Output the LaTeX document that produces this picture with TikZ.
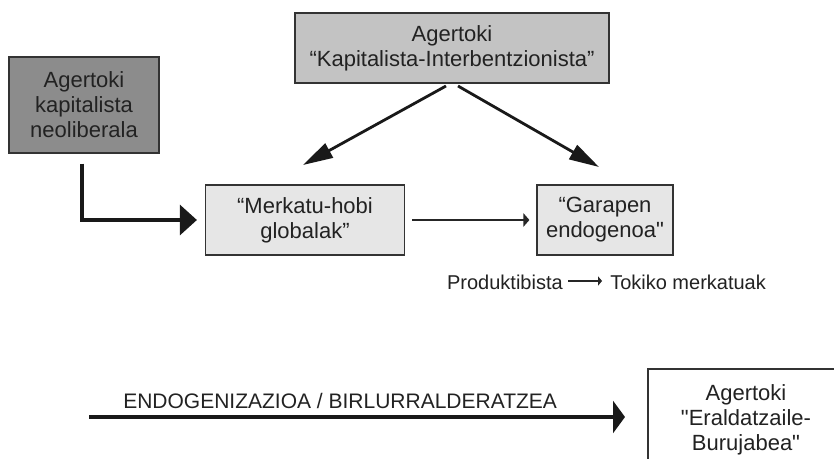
\documentclass[tikz,border=0pt]{standalone}
\usepackage{fontspec}
\setmainfont{Liberation Sans}[Ligatures=TeXOff]
\usetikzlibrary{arrows.meta,calc}
\definecolor{txt}{HTML}{222222}
\definecolor{darkfill}{HTML}{8C8C8C}
\definecolor{midfill}{HTML}{C3C3C3}
\definecolor{lightfill}{HTML}{E6E6E6}
\definecolor{edge}{HTML}{333333}
\begin{document}
\begin{tikzpicture}[x=0.75pt,y=-0.75pt,
  box/.style={draw=edge, line width=0.9pt, align=center, inner sep=0pt, text=txt,
    font=\fontsize{16.5}{18.75}\selectfont},
  lbl/.style={inner sep=0pt, text=txt},
  thickarrow/.style={draw=black!90, line width=2.3pt},
  diagarrow/.style={draw=black!90, line width=2.1pt, -{Triangle[length=22.5pt, width=12pt]}},
  thinarrow/.style={draw=black!85, line width=1pt, -{Triangle[length=4.5pt, width=10pt]}},
  smallarrow/.style={draw=black!85, line width=0.9pt, -{Triangle[length=3pt, width=7pt]}}
]
\useasboundingbox (0,0) rectangle (834,459);
\clip (0,0) rectangle (834,459);
\fill[white] (0,0) rectangle (834,459);

\node[box, fill=darkfill, minimum width={150*0.75pt}, minimum height={96*0.75pt}] (neo) at (84,105)
  {Agertoki\\kapitalista\\neoliberala};
\node[box, fill=midfill, minimum width={314*0.75pt}, minimum height={70*0.75pt}] (top) at (452,48)
  {Agertoki\\“Kapitalista-Interbentzionista”};
\node[box, fill=lightfill, minimum width={199*0.75pt}, minimum height={70*0.75pt}] (merk) at (305,220)
  {“Merkatu-hobi\\globalak”};
\node[box, fill=lightfill, minimum width={136*0.75pt}, minimum height={70*0.75pt}] (gar) at (605,220)
  {“Garapen\\endogenoa"};
\node[box, fill=white, minimum width={196*0.75pt}, minimum height={102*0.75pt}] (bot) at (746,420)
  {Agertoki\\"Eraldatzaile-\\Burujabea"};

% neoliberal -> merkatu
\draw[thickarrow, -{Triangle[length=12.75pt, width=22.5pt]}, shorten <=7.5pt, shorten >=6pt]
  ([xshift=-1.5pt]neo.south) |- (merk.west);

% top -> merkatu, top -> garapen
\coordinate (tl) at (446,86);
\coordinate (tr) at (458,86);
\coordinate (ml) at (303,165);
\coordinate (gr) at (599,167);
\draw[diagarrow] (tl) -- (ml);
\draw[diagarrow] (tr) -- (gr);

% merkatu -> garapen
\draw[thinarrow, shorten <=5.25pt, shorten >=5.25pt] (merk.east) -- (gar.west);

% Produktibista -> Tokiko merkatuak
\node[lbl, anchor=east, font=\fontsize{15}{18}\selectfont] (prod) at (563,282) {Produktibista};
\node[lbl, anchor=west, font=\fontsize{15}{18}\selectfont] (tok) at (610,282) {Tokiko merkatuak};
\draw[smallarrow, shorten <=3.75pt, shorten >=6pt] ([yshift=0.75pt]prod.east) -- ([yshift=0.75pt]prod.east -| tok.west);

% bottom arrow
\node[lbl, anchor=west, font=\fontsize{15.75}{18}\selectfont] (endo) at (123,401) {ENDOGENIZAZIOA / BIRLURRALDERATZEA};
\coordinate (bs) at (89,417);
\coordinate (be) at (625,417);
\draw[thickarrow, -{Triangle[length=9pt, width=24pt]}] (bs) -- (be);
\end{tikzpicture}
\end{document}
